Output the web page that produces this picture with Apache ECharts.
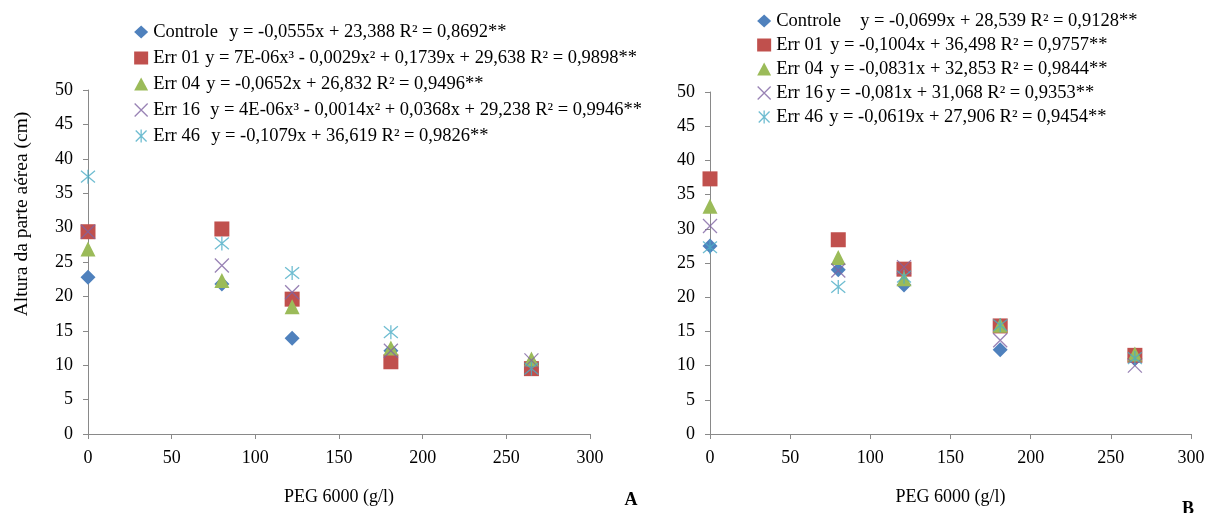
<!DOCTYPE html>
<html><head><meta charset="utf-8">
<script src="https://cdn.jsdelivr.net/npm/echarts@6/dist/echarts.min.js"></script>
<style>html,body{margin:0;padding:0;background:#fff}#c{width:1210px;height:513px}</style>
</head><body><div id="c"></div>
<script>
// ---------- data ----------
const seriesNames = ['Controle', 'Err 01', 'Err 04', 'Err 16', 'Err 46'];
const xA = [0, 80, 122, 181, 265];
const xB = [0, 80, 121, 181, 265];
const controleA = [22.8, 21.8, 13.9, 12.1, 10.2];
const err01A    = [29.4, 29.8, 19.6, 10.5, 9.5];
const err04A    = [26.9, 22.3, 18.5, 12.5, 10.9];
const err16A    = [29.4, 24.5, 20.6, 12.1, 10.7];
const err46A    = [37.4, 27.7, 23.4, 14.8, 9.5];
const controleB = [27.5, 24.0, 21.8, 12.3, 11.0];
const err01B    = [37.3, 28.4, 24.1, 15.8, 11.5];
const err04B    = [33.3, 25.8, 22.7, 15.9, 11.7];
const err16B    = [30.4, 23.9, 24.4, 13.7, 10.0];
const err46B    = [27.3, 21.5, 23.0, 15.9, 11.1];
const equationsA = [
  'y = -0,0555x + 23,388 R² = 0,8692**',
  'y = 7E-06x³ - 0,0029x² + 0,1739x + 29,638 R² = 0,9898**',
  'y = -0,0652x + 26,832 R² = 0,9496**',
  'y = 4E-06x³ - 0,0014x² + 0,0368x + 29,238 R² = 0,9946**',
  'y = -0,1079x + 36,619 R² = 0,9826**'
];
const equationsB = [
  'y = -0,0699x + 28,539 R² = 0,9128**',
  'y = -0,1004x + 36,498 R² = 0,9757**',
  'y = -0,0831x + 32,853 R² = 0,9844**',
  'y = -0,081x + 31,068 R² = 0,9353**',
  'y = -0,0619x + 27,906 R² = 0,9454**'
];
const xTicks = {min: 0, max: 300, interval: 50};
const yTicks = {min: 0, max: 50, interval: 5};
const yTitle = 'Altura da parte aérea (cm)';
const xTitle = 'PEG 6000 (g/l)';
const panelLabels = ['A', 'B'];

// ---------- styling ----------
const FONT = 'Liberation Serif';
const colors = ['#4F81BD', '#C0504D', '#9BBB59', '#8064A2', '#4BACC6'];
const X_PATH = 'path://M0,0L10,10M10,0L0,10';
const STAR_PATH = 'path://M0,0L10,10M10,0L0,10M5,-1L5,11';
const symbols = ['diamond', 'rect', 'triangle', X_PATH, STAR_PATH];
const sizes = [15, 15, 15, 14, 14];
const nameWidthsA = [76, 52, 53, 57, 58];
const nameWidthsB = [84, 54, 54, 50, 53];

const valsA = [controleA, err01A, err04A, err16A, err46A];
const valsB = [controleB, err01B, err04B, err16B, err46B];

function mkSeries(xs, vals, gi) {
  return seriesNames.map((n, i) => {
    const stroke = i >= 3;
    return {
      name: n, type: 'scatter', xAxisIndex: gi, yAxisIndex: gi,
      symbol: symbols[i], symbolSize: sizes[i],
      itemStyle: stroke ? {color: 'rgba(0,0,0,0)', borderColor: colors[i], borderWidth: 1.3}
                        : {color: colors[i], opacity: 1},
      emphasis: {disabled: true},
      data: xs.map((x, k) => [x, vals[i][k]])
    };
  });
}

function mkLegend(left, top, gap, eqs, widths) {
  const base = {fontFamily: FONT, fontSize: 18.5, color: '#000', lineHeight: 20};
  const rich = {e: Object.assign({}, base)};
  widths.forEach((w, i) => { rich['n' + i] = Object.assign({width: w}, base); });
  return {
    orient: 'vertical', left: left, top: top, itemGap: gap,
    itemWidth: 14, itemHeight: 13, itemStyle: {borderWidth: 1.3},
    selectedMode: false,
    data: seriesNames,
    formatter: name => {
      const i = seriesNames.indexOf(name);
      return '{n' + i + '|' + name + '}{e|' + eqs[i] + '}';
    },
    textStyle: Object.assign({rich: rich}, base)
  };
}

const axisLine = {show: true, lineStyle: {color: '#898989', width: 1}};
const axisTick = {show: true, inside: false, length: 5, lineStyle: {color: '#898989'}};

function xAx(gi) {
  return {
    type: 'value', gridIndex: gi, min: xTicks.min, max: xTicks.max, interval: xTicks.interval,
    axisLine: axisLine, axisTick: axisTick, splitLine: {show: false},
    name: xTitle, nameLocation: 'middle', nameGap: 54,
    nameTextStyle: {fontFamily: FONT, fontSize: 18, color: '#000'},
    axisLabel: {fontFamily: FONT, fontSize: 18, color: '#000', margin: 15}
  };
}
function yAx(gi) {
  return {
    type: 'value', gridIndex: gi, min: yTicks.min, max: yTicks.max, interval: yTicks.interval,
    axisLine: axisLine, axisTick: axisTick, splitLine: {show: false},
    axisLabel: {fontFamily: FONT, fontSize: 18, color: '#000', margin: 15}
  };
}

const chart = echarts.init(document.getElementById('c'), null, {renderer: 'canvas'});
chart.setOption({
  animation: false,
  backgroundColor: '#fff',
  grid: [
    {left: 88, right: 620, top: 90, bottom: 79},
    {left: 710, right: 19, top: 92, bottom: 79}
  ],
  xAxis: [xAx(0), xAx(1)],
  yAxis: [yAx(0), yAx(1)],
  legend: [
    mkLegend(129, 17, 6, equationsA, nameWidthsA),
    mkLegend(752, 6, 4, equationsB, nameWidthsB)
  ],
  graphic: [
    {type: 'text', x: 22, y: 214, rotation: Math.PI / 2,
     style: {text: yTitle, fontFamily: FONT, fontSize: 19.5, fill: '#000', align: 'center', verticalAlign: 'middle'}},
    {type: 'text', x: 631, y: 500, style: {text: panelLabels[0], fontFamily: FONT, fontSize: 18, fontWeight: 'bold', fill: '#000', align: 'center', verticalAlign: 'middle'}},
    {type: 'text', x: 1188, y: 509, style: {text: panelLabels[1], fontFamily: FONT, fontSize: 18, fontWeight: 'bold', fill: '#000', align: 'center', verticalAlign: 'middle'}}
  ],
  series: mkSeries(xA, valsA, 0).concat(mkSeries(xB, valsB, 1))
});
</script>
</body></html>
